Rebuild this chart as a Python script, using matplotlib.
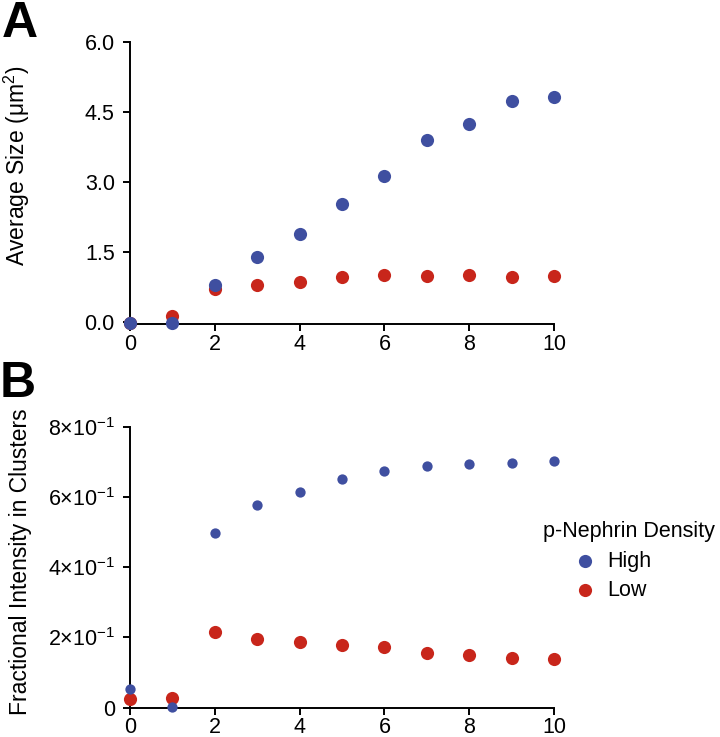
import matplotlib
matplotlib.use('Agg')
import matplotlib.pyplot as plt
from matplotlib.ticker import FixedLocator

plt.rcParams['font.family'] = ['Liberation Sans', 'DejaVu Sans']
plt.rcParams['mathtext.fontset'] = 'custom'
plt.rcParams['mathtext.rm'] = 'Liberation Sans'
plt.rcParams['mathtext.it'] = 'Liberation Sans:italic'

# Data
x = [0, 1, 2, 3, 4, 5, 6, 7, 8, 9, 10]
size_high = [-0.02, -0.02, 0.78, 1.39, 1.88, 2.52, 3.13, 3.89, 4.24, 4.74, 4.82]
size_low = [-0.02, 0.13, 0.69, 0.79, 0.86, 0.95, 1.00, 0.97, 1.01, 0.96, 0.98]
frac_high = [0.054, 0.002, 0.496, 0.578, 0.614, 0.650, 0.673, 0.687, 0.693, 0.697, 0.702]
frac_low = [0.023, 0.026, 0.215, 0.196, 0.186, 0.177, 0.171, 0.156, 0.151, 0.142, 0.139]

size_ticks = [0.0, 1.5, 3.0, 4.5, 6.0]
frac_ticks = [0, 0.2, 0.4, 0.6, 0.8]
frac_labels = ['0', r'$2{\times}10^{-1}$', r'$4{\times}10^{-1}$',
               r'$6{\times}10^{-1}$', r'$8{\times}10^{-1}$']
x_ticks = [0, 2, 4, 6, 8, 10]

blue = '#3f4fa0'
red = '#c8261b'

fig = plt.figure(figsize=(7.2, 7.37), dpi=100)
axA = fig.add_axes([0.1806, 0.5604, 0.5889, 0.3826])
axB = fig.add_axes([0.1806, 0.0400, 0.5889, 0.3811])


def style(ax):
    for s in ['top', 'right']:
        ax.spines[s].set_visible(False)
    for s in ['left', 'bottom']:
        ax.spines[s].set_linewidth(1.4)
    ax.tick_params(direction='out', length=5, width=1.4, labelsize=15.5)
    ax.tick_params(axis='y', pad=6)
    ax.tick_params(axis='x', pad=2)
    ax.set_xlim(0, 10)
    ax.xaxis.set_major_locator(FixedLocator(x_ticks))


# Panel A
axA.scatter(x, size_low, s=90, color=red, clip_on=False, zorder=3, linewidths=0)
axA.scatter(x, size_high, s=90, color=blue, clip_on=False, zorder=4, linewidths=0)
style(axA)
axA.set_ylim(-0.05, 6.0)
axA.set_yticks(size_ticks)
axA.set_yticklabels(['%.1f' % t for t in size_ticks])
axA.set_ylabel('Average Size (μm$^2$)', fontsize=16.5)
axA.yaxis.set_label_coords(-0.232, 0.56)

# Panel B
axB.scatter(x, frac_low, s=90, color=red, clip_on=False, zorder=3, linewidths=0,
            label='Low')
axB.scatter(x, frac_high, s=55, color=blue, clip_on=False, zorder=4, linewidths=0,
            label='High')
style(axB)
axB.set_ylim(0, 0.8)
axB.set_yticks(frac_ticks)
axB.set_yticklabels(frac_labels)
axB.set_ylabel('Fractional Intensity in Clusters', fontsize=16.5)
axB.yaxis.set_label_coords(-0.232, 0.52)

# legend: title drawn separately, entries indented under it
h, l = axB.get_legend_handles_labels()
leg = fig.legend(h[::-1], l[::-1], loc='center left',
                 bbox_to_anchor=(0.797, 0.2186), frameon=False, fontsize=15.5,
                 handlelength=1.0, handletextpad=0.56, markerscale=1.0,
                 labelspacing=0.35, borderpad=0, borderaxespad=0)
for hd in leg.legend_handles:
    hd.set_sizes([90])
fig.text(0.754, 0.2795, 'p-Nephrin Density', fontsize=15.5, va='center', ha='left')

fig.text(0.003, 0.998, 'A', fontsize=36, fontweight='bold', va='top', ha='left')
fig.text(0.0, 0.51, 'B', fontsize=36, fontweight='bold', va='top', ha='left')

fig.savefig('out.png', dpi=100)
